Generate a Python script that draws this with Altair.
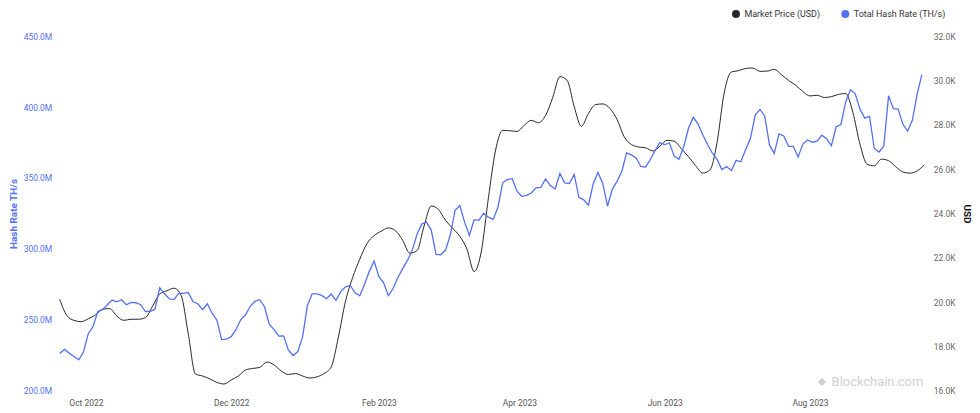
import altair as alt
import pandas as pd

# ---- data ----
price_start = "2022-09-20T00:00:00"   # market price, one value every 3 days
price_usd = [
    20130, 19400, 19180, 19120, 19250, 19420, 19680, 19710, 19370, 19180,
    19230, 19230, 19300, 19820, 20370, 20510, 20630, 20300, 18560, 16760,
    16670, 16540, 16380, 16310, 16490, 16670, 16940, 17010, 17060, 17300,
    17170, 16900, 16740, 16780, 16670, 16580, 16630, 16780, 17080, 18420,
    20040, 21110, 21940, 22640, 23000, 23200, 23350, 23220, 22790, 22210,
    22320, 23440, 24340, 24180, 23690, 23330, 22970, 22390, 21380, 22280,
    24700, 26850, 27750, 27730, 27700, 27970, 28200, 28090, 28420, 29230,
    30170, 30010, 28830, 27930, 28510, 28910, 28940, 28740, 28240, 27460,
    27110, 27000, 26960, 26820, 27030, 27300, 27260, 26920, 26560, 26160,
    25820, 25960, 27210, 29450, 30380, 30440, 30540, 30560, 30410, 30420,
    30500, 30260, 30000, 29780, 29500, 29300, 29330, 29230, 29270, 29370,
    29410, 28560, 27120, 26220, 26150, 26450, 26380, 26110, 25870, 25820,
    25920, 26190,
]

hash_start = "2022-09-20T00:00:00"    # hash rate (million TH/s), one value every 2 days
hash_rate_m = [
    226.3, 229.2, 226.6, 224.2, 221.9, 227.4, 240.3, 245.2, 256.0, 257.2,
    260.7, 264.0, 262.8, 264.2, 260.7, 262.3, 262.1, 260.7, 255.9, 256.1,
    257.4, 272.6, 268.4, 264.9, 264.3, 268.9, 268.7, 269.4, 262.8, 261.4,
    257.2, 261.4, 254.7, 249.8, 236.1, 236.4, 238.2, 243.1, 250.1, 253.4,
    259.6, 263.1, 264.2, 259.3, 247.0, 243.1, 238.6, 238.8, 228.9, 224.9,
    227.7, 238.2, 260.0, 268.4, 268.4, 267.3, 264.9, 268.2, 263.8, 269.9,
    273.3, 274.3, 269.1, 267.0, 275.1, 284.2, 291.5, 280.7, 276.1, 267.2,
    272.1, 279.9, 286.1, 291.9, 299.0, 310.2, 317.5, 318.9, 313.3, 296.1,
    295.9, 299.2, 309.8, 327.3, 330.6, 318.9, 309.5, 320.6, 320.1, 325.2,
    322.4, 320.8, 329.4, 346.6, 349.0, 349.5, 340.7, 337.1, 337.8, 339.4,
    343.1, 343.4, 349.3, 344.7, 342.3, 353.2, 346.6, 346.1, 352.5, 336.3,
    334.6, 330.8, 345.9, 353.9, 346.2, 330.1, 342.0, 347.6, 354.6, 367.7,
    366.3, 364.2, 358.1, 357.7, 363.1, 369.4, 374.9, 373.6, 374.7, 365.4,
    363.2, 372.0, 385.0, 392.7, 388.1, 380.4, 373.6, 367.6, 363.1, 355.9,
    358.1, 355.3, 362.4, 361.4, 370.1, 377.8, 394.3, 398.3, 393.7, 373.3,
    367.3, 381.1, 379.6, 372.3, 372.3, 364.7, 373.9, 376.8, 375.2, 375.9,
    380.2, 377.6, 372.7, 386.1, 387.7, 403.6, 412.1, 409.3, 398.5, 392.2,
    393.4, 370.8, 368.3, 372.5, 407.9, 398.8, 398.5, 388.0, 383.0, 390.8,
    409.0, 422.8,
]

series_names = ["Market Price (USD)", "Total Hash Rate (TH/s)"]
series_colors = ["#262626", "#5470f0"]
hash_ticks = [200, 250, 300, 350, 400, 450]
price_ticks = [16000, 18000, 20000, 22000, 24000, 26000, 28000, 30000, 32000]
month_ticks = [(2022, 10), (2022, 12), (2023, 2), (2023, 4), (2023, 6), (2023, 8)]
watermark = ["Blockchain.com"]

# ---- tables ----
price_df = pd.DataFrame({
    "date": pd.date_range(price_start, periods=len(price_usd), freq="3D").strftime("%Y-%m-%dT%H:%M:%S"),
    "price": price_usd,
})
hash_df = pd.DataFrame({
    "date": pd.date_range(hash_start, periods=len(hash_rate_m), freq="2D").strftime("%Y-%m-%dT%H:%M:%S"),
    "hash": hash_rate_m,
})
legend_df = pd.DataFrame({"series": series_names})

FONT = "Roboto"
BLUE = series_colors[1]

x_enc = alt.X(
    "date:T",
    title=None,
    scale=alt.Scale(nice=False, padding=0),
    axis=alt.Axis(
        values=[alt.DateTime(year=y, month=m, date=1) for y, m in month_ticks],
        format="%b %Y", grid=False, domain=False, ticks=False,
        labelColor="#555555", labelFontSize=8.5, labelPadding=8, labelFont=FONT,
    ),
)

price_line = alt.Chart(price_df).mark_line(
    strokeWidth=1.0, interpolate="monotone", color=series_colors[0]
).encode(
    x=x_enc,
    y=alt.Y(
        "price:Q", title="USD",
        scale=alt.Scale(domain=[16000, 32000], nice=False, zero=False),
        axis=alt.Axis(
            orient="right", values=price_ticks,
            labelExpr="format(datum.value / 1000, '.1f') + 'K'",
            grid=False, domain=False, ticks=False, labelPadding=9,
            labelColor="#666666", labelFontSize=8.5, labelFont=FONT,
            titleColor="#111111", titleFontSize=10, titleFont=FONT,
            titleFontWeight="bold", titlePadding=7,
        ),
    ),
)

hash_line = alt.Chart(hash_df).mark_line(strokeWidth=1.3, color=BLUE).encode(
    x=x_enc,
    y=alt.Y(
        "hash:Q", title="Hash Rate TH/s",
        scale=alt.Scale(domain=[200, 450], nice=False, zero=False),
        axis=alt.Axis(
            orient="left", values=hash_ticks,
            labelExpr="format(datum.value, '.1f') + 'M'",
            grid=False, domain=False, ticks=False, labelPadding=8,
            labelColor=BLUE, labelFontSize=8.5, labelFont=FONT,
            titleColor=BLUE, titleFontSize=10, titleFont=FONT,
            titleFontWeight="bold", titlePadding=5,
        ),
    ),
)

# invisible points that carry the legend (filled circle symbols)
legend_pts = alt.Chart(legend_df).mark_point(filled=True, opacity=0).encode(
    x=alt.value(0), y=alt.value(0),
    color=alt.Color(
        "series:N",
        scale=alt.Scale(domain=series_names, range=series_colors),
        legend=alt.Legend(
            title=None, orient="none", legendX=676, legendY=-27, direction="horizontal",
            symbolType="circle", symbolSize=64, symbolOpacity=1, symbolStrokeWidth=0,
            labelFontSize=9, labelColor="#333333", labelFont=FONT,
            columnPadding=20, labelOffset=4,
        ),
    ),
)

wm_df = pd.DataFrame({"t": watermark})
wm_text = alt.Chart(wm_df).mark_text(
    align="right", baseline="middle", fontSize=13, font=FONT, color="#d0d0d0"
).encode(x=alt.value(869), y=alt.value(348), text="t:N")
wm_logo = alt.Chart(wm_df).mark_point(
    shape="diamond", filled=True, size=70, color="#d0d0d0", opacity=1
).encode(x=alt.value(767), y=alt.value(348))

chart = (
    alt.layer(price_line, hash_line, wm_logo, wm_text, legend_pts)
    .resolve_scale(y="independent")
    .properties(width=870, height=357, background="white", padding=0)
    .configure_view(stroke=None)
)

chart.save("out.html", embed_options={"renderer": "svg", "actions": False})
